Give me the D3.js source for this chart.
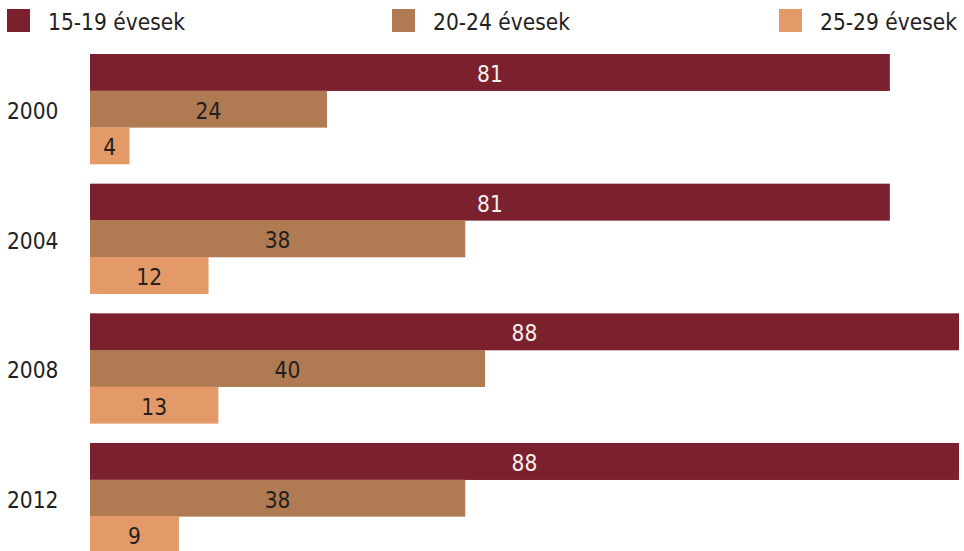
<!DOCTYPE html>
<html>
<head>
<meta charset="utf-8">
<script src="https://cdn.jsdelivr.net/npm/d3@7"></script>
<style>
html,body{margin:0;padding:0;background:#fff;}
svg{display:block;}
text{font-family:"DejaVu Sans Condensed","DejaVu Sans",sans-serif;font-size:22.5px;letter-spacing:0px;}
</style>
</head>
<body>
<svg id="chart" width="964" height="551"></svg>
<script>
const years = ["2000", "2004", "2008", "2012"];
const seriesNames = ["15-19 évesek", "20-24 évesek", "25-29 évesek"];
const s1519 = [81, 81, 88, 88];
const s2024 = [24, 38, 40, 38];
const s2529 = [4, 12, 13, 9];
const colors = ["#7B212D", "#B07A52", "#E39A68"];
const labelColors = ["#f4eeee", "#231F20", "#231F20"];

const seriesValues = [s1519, s2024, s2529];
const svg = d3.select("#chart");

const x = d3.scaleLinear().domain([0, 88]).range([90, 959]);
const y = d3.scaleBand().domain(years).range([54, 553]).paddingInner(0.1517).paddingOuter(0);
const ys = d3.scaleBand().domain(seriesNames).range([0, y.bandwidth()]).padding(0);

const rows = [];
years.forEach((yr, i) => {
  seriesNames.forEach((s, j) => {
    rows.push({year: yr, series: s, si: j, value: seriesValues[j][i]});
  });
});

const g = svg.append("g");
g.selectAll("rect.bar").data(rows).enter().append("rect")
  .attr("class", "bar")
  .attr("x", x(0))
  .attr("y", d => y(d.year) + ys(d.series))
  .attr("width", d => x(d.value) - x(0))
  .attr("height", ys.bandwidth() + 0.3)
  .attr("fill", d => colors[d.si]);

g.selectAll("text.val").data(rows).enter().append("text")
  .attr("class", "val")
  .attr("x", d => (x(0) + x(d.value)) / 2)
  .attr("y", d => y(d.year) + ys(d.series) + ys.bandwidth() / 2 + 9.8)
  .attr("text-anchor", "middle")
  .attr("fill", d => labelColors[d.si])
  .text(d => d.value);

// year axis labels
const yAxis = d3.axisLeft(y).tickSize(0).tickPadding(0);
const ag = svg.append("g").attr("transform", "translate(58.5,0)").call(yAxis);
ag.select(".domain").remove();
ag.selectAll("text")
  .attr("fill", "#231F20")
  .attr("font-size", null)
  .attr("font-family", null)
  .attr("dy", null)
  .attr("y", 10);

// legend
const legendX = [7, 392, 779];
const lg = svg.append("g").selectAll("g").data(seriesNames).enter().append("g")
  .attr("transform", (d, i) => `translate(${legendX[i]},9)`);
lg.append("rect").attr("width", 23).attr("height", 23).attr("fill", (d, i) => colors[i]);
lg.append("text").attr("x", 41).attr("y", 20.5).attr("fill", "#231F20").text(d => d);
</script>
</body>
</html>
